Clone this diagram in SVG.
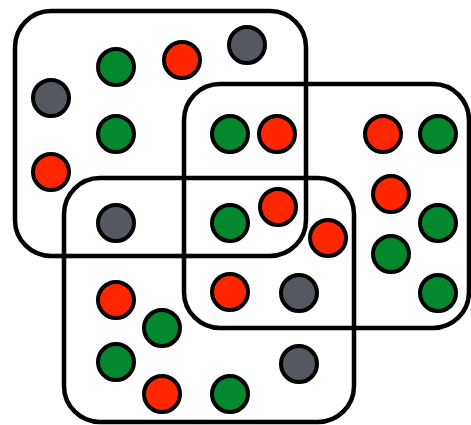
<svg xmlns="http://www.w3.org/2000/svg" width="471" height="425" viewBox="0 0 471 425">
<style>
.set{fill:none;stroke:#000;stroke-width:4.5}
.d{stroke:#000;stroke-width:4}
.g{fill:#03882d}
.r{fill:#ff2600}
.k{fill:#545861}
</style>
<rect width="471" height="425" fill="#fff"/>
<g id="set-a"><rect class="set" x="15" y="11" width="291" height="245" rx="36"/></g>
<g id="set-b"><rect class="set" x="184" y="84" width="285" height="244" rx="36"/></g>
<g id="set-c"><rect class="set" x="64" y="178" width="290" height="244" rx="36"/></g>
<g id="connectors"></g>
<g id="dots">
<g id="n1"><circle class="d g" cx="116" cy="67" r="18"/></g>
<g id="n2"><circle class="d r" cx="182" cy="60" r="18"/></g>
<g id="n3"><circle class="d k" cx="247" cy="45" r="18"/></g>
<g id="n4"><circle class="d k" cx="51" cy="98" r="18"/></g>
<g id="n5"><circle class="d g" cx="116" cy="134" r="18"/></g>
<g id="n6"><circle class="d r" cx="51" cy="172" r="18"/></g>
<g id="n7"><circle class="d g" cx="230" cy="134" r="18"/></g>
<g id="n8"><circle class="d r" cx="277" cy="134" r="18"/></g>
<g id="n9"><circle class="d r" cx="383" cy="134" r="18"/></g>
<g id="n10"><circle class="d g" cx="438" cy="134" r="18"/></g>
<g id="n11"><circle class="d k" cx="116" cy="223" r="18"/></g>
<g id="n12"><circle class="d g" cx="230" cy="223" r="18"/></g>
<g id="n13"><circle class="d r" cx="278" cy="207" r="18"/></g>
<g id="n14"><circle class="d r" cx="391" cy="194" r="18"/></g>
<g id="n15"><circle class="d g" cx="438" cy="223" r="18"/></g>
<g id="n16"><circle class="d r" cx="328" cy="238" r="18"/></g>
<g id="n17"><circle class="d g" cx="391" cy="254" r="18"/></g>
<g id="n18"><circle class="d r" cx="230" cy="292" r="18"/></g>
<g id="n19"><circle class="d k" cx="299" cy="293" r="18"/></g>
<g id="n20"><circle class="d g" cx="438" cy="293" r="18"/></g>
<g id="n21"><circle class="d r" cx="116" cy="300" r="18"/></g>
<g id="n22"><circle class="d g" cx="162" cy="328" r="18"/></g>
<g id="n23"><circle class="d g" cx="116" cy="362" r="18"/></g>
<g id="n24"><circle class="d k" cx="299" cy="364" r="18"/></g>
<g id="n25"><circle class="d r" cx="162" cy="394" r="18"/></g>
<g id="n26"><circle class="d g" cx="230" cy="394" r="18"/></g>
</g>
</svg>
